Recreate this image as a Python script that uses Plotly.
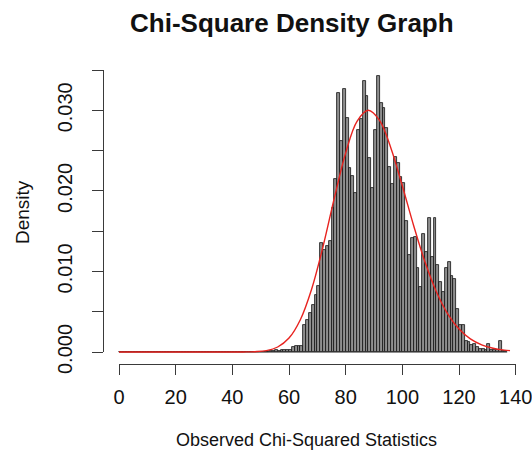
import plotly.graph_objects as go

# ---- data ----
bin_start = 0          # first bin left edge
bin_width = 1
density = [0.0] * 53 + [
    0.0001, 0.0001, 0.0002, 0.0001, 0.0003, 0.0002, 0.0003, 0.0003,   # 53-60
    0.0006, 0.0007, 0.0007, 0.0008, 0.0033, 0.0040, 0.0048, 0.0058,   # 61-68
    0.0071, 0.0082, 0.0135, 0.0126, 0.0132, 0.0138, 0.0179, 0.0215,   # 69-76
    0.0322, 0.0262, 0.0327, 0.0291, 0.0228, 0.0218, 0.0197, 0.0275,   # 77-84
    0.0289, 0.0336, 0.0318, 0.0241, 0.0203, 0.0276, 0.0342, 0.0309,   # 85-92
    0.0303, 0.0278, 0.0230, 0.0208, 0.0242, 0.0235, 0.0217, 0.0210,   # 93-100
    0.0162, 0.0121, 0.0141, 0.0143, 0.0104, 0.0081, 0.0146, 0.0124,   # 101-108
    0.0166, 0.0118, 0.0166, 0.0108, 0.0087, 0.0075, 0.0104, 0.0112,   # 109-116
    0.0094, 0.0090, 0.0053, 0.0033, 0.0034, 0.0014, 0.0013, 0.0009,   # 117-124
    0.0010, 0.0006, 0.0004, 0.0004, 0.0003, 0.0010, 0.0003, 0.0002,   # 125-132
    0.0002, 0.0014, 0.0001, 0.0001,                                   # 133-136
]
bin_centers = [bin_start + bin_width * (i + 0.5) for i in range(len(density))]
bin_edges_range = [bin_start, bin_start + bin_width * len(density)]

curve_x = [0, 10, 20, 30, 40, 44, 48, 52, 56, 60, 64, 68, 72, 76, 80, 84, 88,
           92, 96, 100, 104, 108, 112, 116, 120, 124, 128, 132, 136, 138]
curve_y = [0, 0, 0, 0, 0.000001, 0.000008, 0.00004, 0.00017, 0.00062, 0.00173,
           0.00401, 0.00782, 0.01309, 0.01912, 0.02472, 0.02863, 0.0300,
           0.02872, 0.02527, 0.02061, 0.01567, 0.01116, 0.00748, 0.00474,
           0.00285, 0.00163, 0.00089, 0.00047, 0.00024, 0.00017]

x_ticks = [0, 20, 40, 60, 80, 100, 120, 140]
y_ticks = [0.000, 0.005, 0.010, 0.015, 0.020, 0.025, 0.030, 0.035]
y_ticktext = ["0.000", "", "0.010", "", "0.020", "", "0.030", ""]

title = "Chi-Square Density Graph"
x_title = "Observed Chi-Squared Statistics"
y_title = "Density"

# ---- layout geometry (window pixels; body margin removed below) ----
W, H = 532, 462


def fx(px):
    return px / W


def fy(py):
    return 1 - py / H


px_x0, px_x140 = 119.0, 515.7          # pixel of x=0 and x=140
py_y0, py_y035 = 352.0, 70.0           # pixel of y=0 and y=0.035
sx = (px_x140 - px_x0) / 140.0
sy = (py_y0 - py_y035) / 0.035

# data area (hidden axes)
dl, dr, dt, db = 105.0, 528.0, 60.0, 360.0
xr = [(dl - px_x0) / sx, (dr - px_x0) / sx]
yr = [(py_y0 - db) / sy, (py_y0 - dt) / sy]

font = "Liberation Sans, Arial, Helvetica, sans-serif"
axis_col = "#3a3a3a"
txt_col = "#111111"
tick_size = 20

fig = go.Figure()

# baseline of all bins (R draws zero-height bars as a line)
fig.add_trace(go.Scatter(x=bin_edges_range, y=[0, 0], mode="lines",
                         line=dict(color="#333333", width=1),
                         hoverinfo="skip", showlegend=False))
fig.add_trace(go.Bar(x=bin_centers, y=density, width=bin_width,
                     marker=dict(color="#8f8f8f",
                                 line=dict(color="#111111", width=0.8)),
                     showlegend=False))
fig.add_trace(go.Scatter(x=curve_x, y=curve_y, mode="lines",
                         line=dict(color="#e8231f", width=1.4, shape="spline"),
                         showlegend=False))
# dummy trace for the decorative R-style axes
fig.add_trace(go.Scatter(x=[None], y=[None], xaxis="x2", yaxis="y2",
                         showlegend=False, hoverinfo="skip"))

fig.update_layout(
    width=W, height=H,
    margin=dict(l=0, r=0, t=0, b=0, autoexpand=False),
    paper_bgcolor="white", plot_bgcolor="rgba(0,0,0,0)",
    bargap=0,
    font=dict(family=font, size=18, color=txt_col),
    xaxis=dict(domain=[fx(dl), fx(dr)], range=xr, visible=False,
               automargin=False),
    yaxis=dict(domain=[fy(db), fy(dt)], range=yr, visible=False,
               automargin=False),
    xaxis2=dict(domain=[fx(px_x0), fx(px_x140)], range=[0, 140],
                anchor="free", position=fy(364.0), automargin=False,
                showline=True, linecolor=axis_col, linewidth=1,
                ticks="outside", ticklen=10, tickcolor=axis_col, tickwidth=1,
                tickvals=x_ticks, ticktext=[str(v) for v in x_ticks],
                ticklabelstandoff=5, ticklabeloverflow="allow",
                showgrid=False, zeroline=False,
                tickfont=dict(size=tick_size, color=txt_col)),
    yaxis2=dict(domain=[fy(py_y0), fy(py_y035)], range=[0, 0.035],
                anchor="free", position=fx(103.0), automargin=False,
                showline=True, linecolor=axis_col, linewidth=1,
                ticks="outside", ticklen=11, tickcolor=axis_col, tickwidth=1,
                tickvals=y_ticks, ticktext=y_ticktext, tickangle=-90,
                ticklabelstandoff=12, ticklabeloverflow="allow",
                showgrid=False, zeroline=False,
                tickfont=dict(size=tick_size, color=txt_col)),
    annotations=[
        dict(text="<b>" + title + "</b>", x=fx(292), y=fy(23),
             xanchor="center", yanchor="middle",
             xref="paper", yref="paper", showarrow=False,
             font=dict(size=26, color=txt_col)),
        dict(text=x_title, x=fx(306), y=fy(440),
             xanchor="center", yanchor="middle",
             xref="paper", yref="paper", showarrow=False,
             font=dict(size=18, color=txt_col)),
        dict(text=y_title, x=fx(22), y=fy(212), textangle=-90,
             xanchor="center", yanchor="middle",
             xref="paper", yref="paper", showarrow=False,
             font=dict(size=19, color=txt_col)),
    ],
)

fig.write_html(
    "out.html",
    config={"displayModeBar": False},
    post_script="document.body.style.margin='0px';"
                "document.documentElement.style.overflow='hidden';"
                "document.body.style.overflow='hidden';",
)
